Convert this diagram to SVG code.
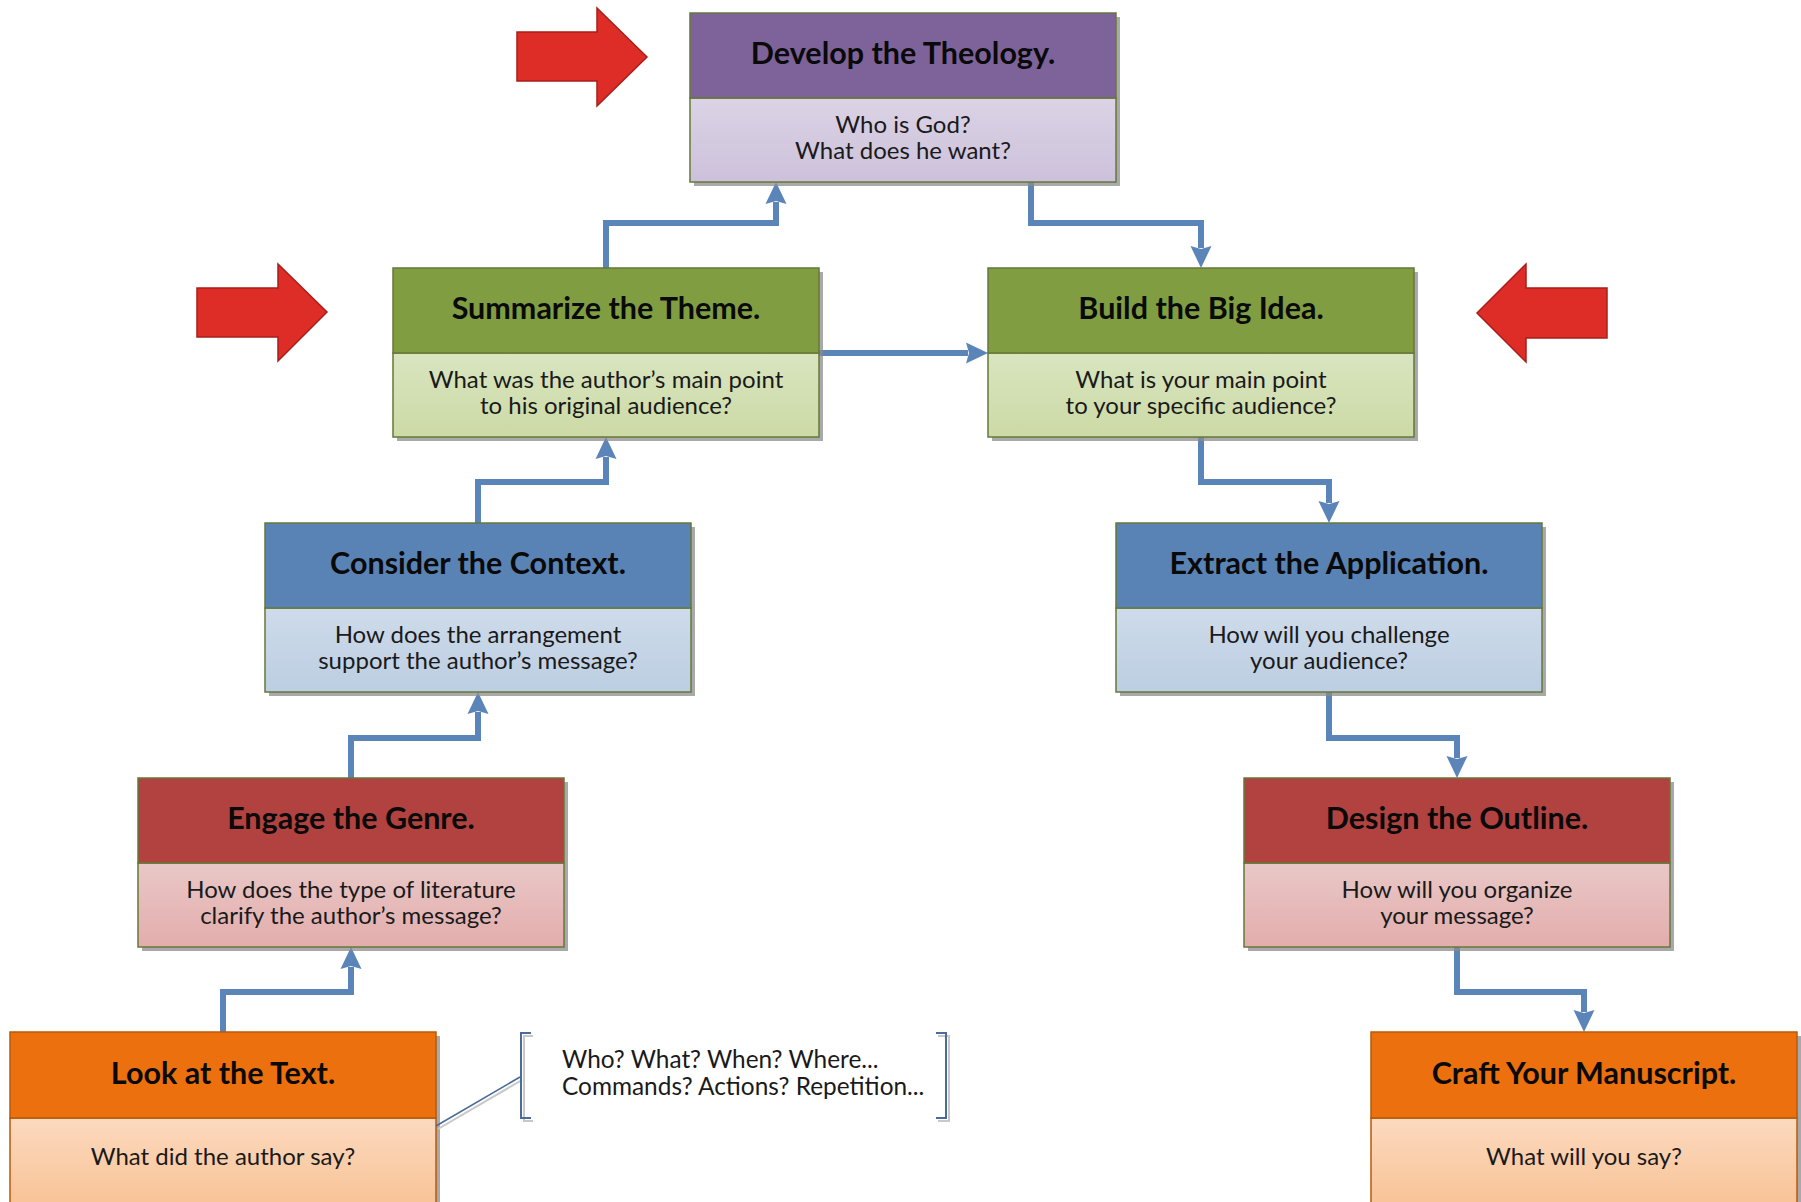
<svg xmlns="http://www.w3.org/2000/svg" width="1801" height="1202" viewBox="0 0 1801 1202">
<style>
.t{font-family:Lato,"Open Sans","Liberation Sans",sans-serif;font-weight:700;font-size:30.5px;fill:#0a0a0a;text-anchor:middle}
.b{font-family:Lato,"Open Sans","Liberation Sans",sans-serif;font-size:24px;fill:#1a1a1a;text-anchor:middle}
.c{font-family:Lato,"Open Sans","Liberation Sans",sans-serif;font-size:24.4px;fill:#1a1a1a}
.sh{fill:#8c8c8c;opacity:0.75}
.bd{stroke:#66783a;stroke-width:1.5}
.bdo{stroke:#b85a0a;stroke-width:1.5}
.cn{fill:none;stroke:#5B85B8;stroke-width:6;stroke-linejoin:miter;marker-end:url(#ah)}
.ra{fill:#DE2C26;stroke:#A81E1A;stroke-width:1.5}
.br{fill:none;stroke:#4A6C9B;stroke-width:2}
.brs{fill:none;stroke:#c8c8c8;stroke-width:2}
</style>
<defs>
<marker id="ah" markerUnits="userSpaceOnUse" markerWidth="26" markerHeight="26" viewBox="0 -13 26 26" refX="2" refY="0" orient="auto">
<path d="M0,-10.5 L22,0 L0,10.5 L3,0 z" fill="#5B85B8"/>
</marker>
<linearGradient id="gP" x1="0" y1="0" x2="0" y2="1"><stop offset="0" stop-color="#DCD3E6"/><stop offset="1" stop-color="#CCC1DA"/></linearGradient>
<linearGradient id="gG" x1="0" y1="0" x2="0" y2="1"><stop offset="0" stop-color="#D9E5BF"/><stop offset="1" stop-color="#CCDAA6"/></linearGradient>
<linearGradient id="gB" x1="0" y1="0" x2="0" y2="1"><stop offset="0" stop-color="#CEDBEA"/><stop offset="1" stop-color="#BCCEE2"/></linearGradient>
<linearGradient id="gR" x1="0" y1="0" x2="0" y2="1"><stop offset="0" stop-color="#E9C8C7"/><stop offset="1" stop-color="#E2ADAC"/></linearGradient>
<linearGradient id="gO" x1="0" y1="0" x2="0" y2="1"><stop offset="0" stop-color="#FCDABF"/><stop offset="1" stop-color="#F8C397"/></linearGradient>
</defs>
<rect width="1801" height="1202" fill="#ffffff"/>

<g id="red-arrows">
<path id="red-arrow-top" class="ra" d="M517,32 H597 V8 L647,57 L597,106 V81 H517 Z"/>
<path id="red-arrow-left" class="ra" d="M197,288 H278 V264 L327,312 L278,361 V337 H197 Z"/>
<path id="red-arrow-right" class="ra" d="M1607,288 H1526 V264 L1477,313 L1526,362 V338 H1607 Z"/>
</g>

<g id="connectors">
<path class="cn" d="M223,1032 V992 H351 V967"/>
<path class="cn" d="M351,778 V738 H478 V712"/>
<path class="cn" d="M478,523 V482 H606 V457"/>
<path class="cn" d="M606,268 V223 H776 V202"/>
<path class="cn" d="M1031,182 V223 H1201 V248"/>
<path class="cn" d="M819,353 H968"/>
<path class="cn" d="M1201,437 V482 H1329 V503"/>
<path class="cn" d="M1329,692 V738 H1457 V758"/>
<path class="cn" d="M1457,947 V992 H1584 V1012"/>
</g>

<g id="develop">
<rect class="sh" x="694" y="17" width="426" height="169"/>
<rect x="690" y="98" width="426" height="84" fill="url(#gP)" class="bd"/>
<rect x="690" y="13" width="426" height="85" fill="#7E639B" class="bd"/>
<text class="t" x="903" y="64">Develop the Theology.</text>
<text class="b"><tspan x="903" y="133">Who is God?</tspan><tspan x="903" y="159">What does he want?</tspan></text>
</g>

<g id="summarize">
<rect class="sh" x="397" y="272" width="426" height="169"/>
<rect x="393" y="353" width="426" height="84" fill="url(#gG)" class="bd"/>
<rect x="393" y="268" width="426" height="85" fill="#809E41" class="bd"/>
<text class="t" x="606" y="319">Summarize the Theme.</text>
<text class="b"><tspan x="606" y="388">What was the author’s main point</tspan><tspan x="606" y="414">to his original audience?</tspan></text>
</g>

<g id="build">
<rect class="sh" x="992" y="272" width="426" height="169"/>
<rect x="988" y="353" width="426" height="84" fill="url(#gG)" class="bd"/>
<rect x="988" y="268" width="426" height="85" fill="#809E41" class="bd"/>
<text class="t" x="1201" y="319">Build the Big Idea.</text>
<text class="b"><tspan x="1201" y="388">What is your main point</tspan><tspan x="1201" y="414">to your specific audience?</tspan></text>
</g>

<g id="consider">
<rect class="sh" x="269" y="527" width="426" height="169"/>
<rect x="265" y="608" width="426" height="84" fill="url(#gB)" class="bd"/>
<rect x="265" y="523" width="426" height="85" fill="#5A83B5" class="bd"/>
<text class="t" x="478" y="574">Consider the Context.</text>
<text class="b"><tspan x="478" y="643">How does the arrangement</tspan><tspan x="478" y="669">support the author’s message?</tspan></text>
</g>

<g id="extract">
<rect class="sh" x="1120" y="527" width="426" height="169"/>
<rect x="1116" y="608" width="426" height="84" fill="url(#gB)" class="bd"/>
<rect x="1116" y="523" width="426" height="85" fill="#5A83B5" class="bd"/>
<text class="t" x="1329" y="574">Extract the Application.</text>
<text class="b"><tspan x="1329" y="643">How will you challenge</tspan><tspan x="1329" y="669">your audience?</tspan></text>
</g>

<g id="engage">
<rect class="sh" x="142" y="782" width="426" height="169"/>
<rect x="138" y="863" width="426" height="84" fill="url(#gR)" class="bd"/>
<rect x="138" y="778" width="426" height="85" fill="#B2423F" class="bd"/>
<text class="t" x="351" y="829">Engage the Genre.</text>
<text class="b"><tspan x="351" y="898">How does the type of literature</tspan><tspan x="351" y="924">clarify the author’s message?</tspan></text>
</g>

<g id="design">
<rect class="sh" x="1248" y="782" width="426" height="169"/>
<rect x="1244" y="863" width="426" height="84" fill="url(#gR)" class="bd"/>
<rect x="1244" y="778" width="426" height="85" fill="#B2423F" class="bd"/>
<text class="t" x="1457" y="829">Design the Outline.</text>
<text class="b"><tspan x="1457" y="898">How will you organize</tspan><tspan x="1457" y="924">your message?</tspan></text>
</g>

<g id="look">
<rect class="sh" x="14" y="1036" width="426" height="170"/>
<rect x="10" y="1118" width="426" height="86" fill="url(#gO)" class="bdo"/>
<rect x="10" y="1032" width="426" height="86" fill="#EC700D" class="bdo"/>
<text class="t" x="223" y="1084">Look at the Text.</text>
<text class="b" x="223" y="1165">What did the author say?</text>
</g>

<g id="craft">
<rect class="sh" x="1375" y="1036" width="426" height="170"/>
<rect x="1371" y="1118" width="426" height="86" fill="url(#gO)" class="bdo"/>
<rect x="1371" y="1032" width="426" height="86" fill="#EC700D" class="bdo"/>
<text class="t" x="1584" y="1084">Craft Your Manuscript.</text>
<text class="b" x="1584" y="1165">What will you say?</text>
</g>

<g id="callout">
<path class="brs" d="M438,1129 L522,1080"/>
<path class="brs" d="M533,1036 H524 V1121 H533"/>
<path class="brs" d="M938,1036 H949 V1121 H938"/>
<path d="M436,1126 L520,1077" fill="none" stroke="#4A6C9B" stroke-width="1.6"/>
<path class="br" d="M531,1033 H521 V1118 H531"/>
<path class="br" d="M936,1033 H946 V1118 H936"/>
<text class="c"><tspan x="562" y="1068">Who? What? When? Where...</tspan><tspan x="562" y="1095">Commands? Actions? Repetition...</tspan></text>
</g>
</svg>
